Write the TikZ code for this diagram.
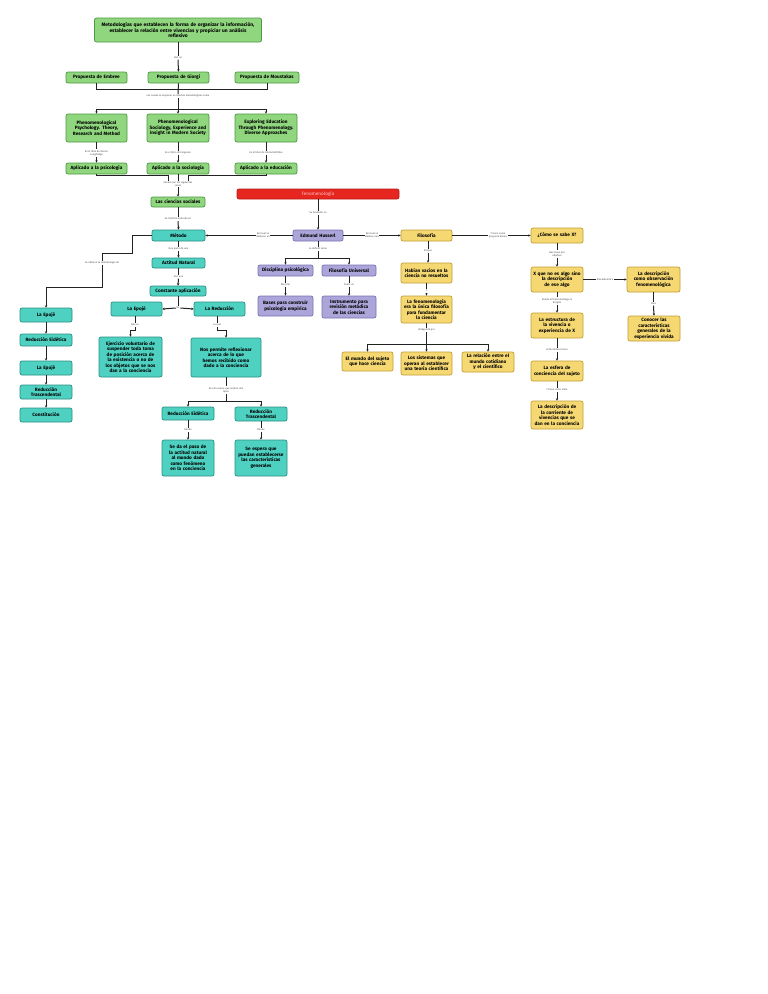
\documentclass[tikz,border=0pt]{standalone}
\usepackage{fontspec}
\setmainfont{Fira Sans}
\usetikzlibrary{arrows.meta}
\definecolor{gfill}{HTML}{8FD67E}
\definecolor{gdraw}{HTML}{4E9A42}
\definecolor{tfill}{HTML}{4FD1C1}
\definecolor{tdraw}{HTML}{2A8F85}
\definecolor{pfill}{HTML}{ABA5D9}
\definecolor{pdraw}{HTML}{7A72B4}
\definecolor{yfill}{HTML}{F6D872}
\definecolor{ydraw}{HTML}{C29F36}
\definecolor{rfill}{HTML}{E6261F}
\definecolor{lnc}{HTML}{222222}
\newcommand\bxfont{\fontsize{4.7}{5.5}\selectfont\bfseries\hyphenpenalty=10000\exhyphenpenalty=10000}
\newcommand\lbfont{\fontsize{2.5}{3.0}\selectfont}
\tikzset{
  bx/.style={rounded corners=2pt, line width=0.7pt, align=center, font=\bxfont, inner sep=0.8pt, text=black},
  gb/.style={bx, fill=gfill, draw=gdraw},
  tb/.style={bx, fill=tfill, draw=tdraw},
  pb/.style={bx, fill=pfill, draw=pdraw},
  yb/.style={bx, fill=yfill, draw=ydraw},
  rb/.style={bx, fill=rfill, draw=rfill!80!black, text=red!25!white, font=\bxfont\mdseries},
  sz/.style 2 args={minimum width=#1, text width=#1-3, minimum height=#2},
  lab/.style={font=\lbfont, text=black!70, fill=white, inner sep=0.6pt, align=center},
  ln/.style={draw=lnc, line width=1pt},
  arr/.style={ln, -{Stealth[length=2.4pt,width=2.4pt]}}
}
\begin{document}
\begin{tikzpicture}[x=1pt,y=-1pt]
\fill[white] (0,0) rectangle (768,994);
\useasboundingbox (0,0) rectangle (768,994);

% green
\node[gb, sz={167}{24}, font=\fontsize{4.9}{5.8}\selectfont\bfseries] (top) at (178,30) {Metodologías que establecen la forma de organizar la información,\\ establecer la relación entre vivencias y propiciar un análisis\\ reflexivo};
\node[gb, sz={61}{11}] (emb) at (96.5,77.5) {Propuesta de Embree};
\node[gb, sz={61}{11}] (gio) at (178.5,77.5) {Propuesta de Giorgi};
\node[gb, sz={64}{11}] (mou) at (267,77.5) {Propuesta de Moustakas};
\node[gb, sz={61}{28}] (pp) at (96.5,128) {Phenomenological Psychology. Theory, Research and Method};
\node[gb, sz={62}{28}] (ps) at (178,128) {Phenomenological Sociology, Experience and Insight in Modern Society};
\node[gb, sz={62}{28}] (ee) at (266,128) {Exploring Education Through Phenomenology. Diverse Approaches};
\node[gb, sz={61}{11}] (ap1) at (96.5,168.5) {Aplicado a la psicología};
\node[gb, sz={62}{11}] (ap2) at (178,168.5) {Aplicado a la sociología};
\node[gb, sz={62}{11}] (ap3) at (266,168.5) {Aplicado a la educación};
\node[gb, sz={54}{10}] (cs) at (178,202) {Las ciencias sociales};

% teal
\node[tb, sz={53}{11}] (met) at (178.5,235.5) {Método};
\node[tb, sz={53}{10}] (an) at (178.5,263) {Actitud Natural};
\node[tb, sz={56}{10}] (ca) at (178,291) {Constante aplicación};
\node[tb, sz={51}{14}] (ep2) at (136.5,309) {La Epojé};
\node[tb, sz={51}{14}] (red) at (219.5,309) {La Reducción};
\node[tb, sz={63}{40}] (ej) at (130.5,357) {Ejercicio voluntario de suspender toda toma de posición acerca de la existencia o no de los objetos que se nos dan a la conciencia};
\node[tb, sz={70}{39}] (nos) at (226,357.5) {Nos permite reflexionar acerca de lo que hemos recibido como dado a la conciencia};
\node[tb, sz={52}{13}] (re2) at (188,413.5) {Reducción Eidética};
\node[tb, sz={52}{14}] (rt2) at (261,414) {Reducción Trascendental};
\node[tb, sz={52}{36}] (sd) at (188,458) {Se da el paso de la actitud natural al mundo dado como fenómeno en la conciencia};
\node[tb, sz={52}{36}] (se) at (261,458) {Se espera que puedan establecerse las características generales};
\node[tb, sz={52}{14}] (ep1) at (46,315) {La Epojé};
\node[tb, sz={52}{12}] (re1) at (46,340) {Reducción Eidética};
\node[tb, sz={52}{14}] (ep3) at (46,368) {La Epojé};
\node[tb, sz={52}{14}] (rt1) at (46,392) {Reducción Trascendental};
\node[tb, sz={52}{14}] (con) at (46,415) {Constitución};

% purple
\node[pb, sz={50}{11}] (hus) at (318,235.5) {Edmund Husserl};
\node[pb, sz={55}{11}] (dp) at (285.5,270.5) {Disciplina psicológica};
\node[pb, sz={54}{11}] (fu) at (349,270.5) {Filosofía Universal};
\node[pb, sz={55}{20}] (bp) at (285.5,306) {Bases para construir psicología empírica};
\node[pb, sz={54}{22}] (ins) at (349,307) {Instrumento para revisión metódica de las ciencias};

% yellow
\node[yb, sz={51}{11}] (fil) at (426.5,235.5) {Filosofía};
\node[yb, sz={51}{20}] (hv) at (426.5,273) {Habían vacíos en la ciencia no resueltos};
\node[yb, sz={51}{27}] (lf) at (426.5,309.5) {La fenomenología era la única filosofía para fundamentar la ciencia};
\node[yb, sz={51}{19}] (ms) at (367.5,361.5) {El mundo del sujeto que hace ciencia};
\node[yb, sz={51}{23}] (si) at (426.5,363.5) {Los sistemas que operan al establecer una teoría científica};
\node[yb, sz={52}{20}] (rel) at (488,362) {La relación entre el mundo cotidiano y el científico};
\node[yb, sz={52}{15}] (como) at (557,235.5) {¿Cómo se sabe X?};
\node[yb, sz={52}{25}] (xq) at (557,279.5) {X que no es algo sino la descripción de ese algo};
\node[yb, sz={53}{25}] (ld) at (653.5,279.5) {La descripción como observación fenomenológica};
\node[yb, sz={52}{25}] (cc) at (654,328.5) {Conocer las características generales de la experiencia vivida};
\node[yb, sz={52}{25}] (es) at (557,325.5) {La estructura de la vivencia o experiencia de X};
\node[yb, sz={52}{20}] (esf) at (557,371) {La esfera de conciencia del sujeto};
\node[yb, sz={52}{28}] (dc) at (557,415) {La descripción de la corriente de vivencias que se dan en la conciencia};

% red
\node[rb, minimum width=162, minimum height=10] (fen) at (318,194) {Fenomenología};

% labels
\node[lab] (l0) at (178,58) {Dan un};
\node[lab] (l1) at (178,96) {Los cuales se amparan en diseños metodológicos como};
\node[lab] (lb1) at (96.5,153) {En el libro de Darren\\Langdridge};
\node[lab] (lb2) at (178,153) {En el libro de Ferguson};
\node[lab] (lb3) at (266,153) {En el libro de Gloria Dall'Alba};
\node[lab] (lc) at (178,184) {Cuenta con los siguientes\\casos};
\node[lab] (lsc) at (178,219) {Se clasifica aplicado en};
\node[lab] (lfu) at (318,213) {Su fundador es};
\node[lab] (ld1) at (263,235.5) {Del cual se\\deducen un};
\node[lab] (ld2) at (372,235.5) {Del cual se\\deduce una};
\node[lab] (ld3) at (498,235.5) {Y tiene como\\pregunta básica};
\node[lab] (ldef) at (318,249) {La definió como};
\node[lab] (lpd) at (285.5,285) {Para dar};
\node[lab] (lco) at (349,285) {Como un};
\node[lab] (lpor) at (428,251) {Porque};
\node[lab] (ly) at (426.5,291) {Y};
\node[lab] (lind) at (426.5,330) {Indagando por};
\node[lab] (lqt) at (557,254) {Que tiene por\\objetivo};
\node[lab] (lent) at (605,279.5) {Entendiendo a};
\node[lab] (lpara) at (653.5,304) {Para};
\node[lab] (ldon) at (557,301) {Donde el fenomenólogo se\\dirigirá};
\node[lab] (lenf) at (557,350) {Enfocándose hacia};
\node[lab] (lyt) at (557,390) {Y tiene como meta};
\node[lab] (lso) at (102,263) {Se obtiene su metodología de};
\node[lab] (lqp) at (178.5,249) {Que parte de una};
\node[lab] (lcu) at (178.5,277) {Con una};
\node[lab] (lde) at (178,308) {De};
\node[lab] (lqe) at (135,325) {Que es};
\node[lab] (llc) at (217,325) {La cual};
\node[lab] (ldos) at (226,390) {De ella vemos que existen dos\\tipos};
\node[lab] (ldo1) at (188,430) {Donde};
\node[lab] (ldo2) at (261,430) {Donde};

% connectors top
\draw[ln] (top.south) -- (l0.north);
\draw[arr] (l0.south) -- (gio.north);
\coordinate (b1) at (178.5,89);
\draw[ln] (emb.south) |- (b1);
\draw[ln] (mou.south) |- (b1);
\draw[ln] (gio.south) -- (l1.north);
\coordinate (b2) at (178,109);
\draw[ln] (l1.south) -- (b2);
\draw[arr] (b2) -| (pp.north);
\draw[arr] (b2) -- (ps.north);
\draw[arr] (b2) -| (ee.north);
\draw[ln] (pp.south) -- (lb1.north);
\draw[arr] (lb1.south) -- (ap1.north);
\draw[ln] (ps.south) -- (lb2.north);
\draw[arr] (lb2.south) -- (ap2.north);
\draw[ln] (ee.south) -- (lb3.north);
\draw[arr] (lb3.south) -- (ap3.north);
\draw[ln] (ap1.south) |- ([xshift=-10pt,yshift=5pt]lc.north) -- ([xshift=-10pt]lc.north);
\draw[ln] (ap3.south) |- ([xshift=10pt,yshift=5pt]lc.north) -- ([xshift=10pt]lc.north);
\draw[ln] (ap2.south) -- (lc.north);
\draw[arr] (lc.south) -- (cs.north);
\draw[ln] (cs.south) -- (lsc.north);
\draw[arr] (lsc.south) -- (met.north);

% center
\draw[ln] (fen.south) -- (lfu.north);
\draw[arr] (lfu.south) -- (hus.north);
\draw[ln] (hus.west) -- (ld1.east);
\draw[arr] (ld1.west) -- (met.east);
\draw[ln] (hus.east) -- (ld2.west);
\draw[arr] (ld2.east) -- (fil.west);
\draw[ln] (fil.east) -- (ld3.west);
\draw[arr] (ld3.east) -- (como.west);
\draw[ln] (hus.south) -- (ldef.north);
\coordinate (hb) at (318,258);
\draw[ln] (ldef.south) -- (hb);
\draw[arr] (hb) -| (dp.north);
\draw[arr] (hb) -| (fu.north);
\draw[ln] (dp.south) -- (lpd.north);
\draw[arr] (lpd.south) -- (bp.north);
\draw[ln] (fu.south) -- (lco.north);
\draw[arr] (lco.south) -- (ins.north);

% yellow middle
\draw[ln] (fil.south -| lpor.north) -- (lpor.north);
\draw[arr] (lpor.south) -- (hv.north -| lpor.south);
\draw[ln] (hv.south) -- (ly.north);
\draw[arr] (ly.south) -- (lf.north);
\draw[ln] (lf.south) -- (lind.north);
\coordinate (ib) at (426.5,344);
\draw[ln] (lind.south) -- (ib);
\draw[arr] (ib) -| (ms.north);
\draw[arr] (ib) -- (si.north);
\draw[arr] (ib) -| (rel.north);

% yellow right
\draw[ln] (como.south) -- (lqt.north);
\draw[arr] (lqt.south) -- (xq.north);
\draw[ln] (xq.east) -- (lent.west);
\draw[arr] (lent.east) -- (ld.west);
\draw[ln] (ld.south) -- (lpara.north);
\draw[arr] (lpara.south) -- (cc.north);
\draw[ln] (xq.south) -- (ldon.north);
\draw[arr] (ldon.south) -- (es.north);
\draw[ln] (es.south) -- (lenf.north);
\draw[arr] (lenf.south) -- (esf.north);
\draw[ln] (esf.south) -- (lyt.north);
\draw[arr] (lyt.south) -- (dc.north);

% teal
\draw[ln] (met.west) -| (132,253) -| (lso.north);
\draw[arr] (lso.south) |- ([yshift=20pt]ep1.north) -- (ep1.north);
\draw[arr] (ep1.south) -- (re1.north);
\draw[arr] (re1.south) -- (ep3.north);
\draw[arr] (ep3.south) -- (rt1.north);
\draw[arr] (rt1.south) -- (con.north);
\draw[ln] (met.south) -- (lqp.north);
\draw[arr] (lqp.south) -- (an.north);
\draw[ln] (an.south) -- (lcu.north);
\draw[arr] (lcu.south) -- (ca.north);
\draw[ln] (ca.south) -- (lde.north);
\draw[arr] (lde.west) -- (ep2.east);
\draw[arr] (lde.east) -- (red.west);
\draw[ln] (ep2.south -| lqe.north) -- (lqe.north);
\draw[arr] (lqe.south) -- ++(0,4) -| (ej.north);
\draw[ln] (red.south -| llc.north) -- (llc.north);
\draw[arr] (llc.south) -- ++(0,4) -| (nos.north);
\draw[ln] (nos.south) -- (ldos.north);
\coordinate (tbr) at (226,401);
\draw[ln] (ldos.south) -- (tbr);
\draw[arr] (tbr) -| (re2.north);
\draw[arr] (tbr) -| (rt2.north);
\draw[ln] (re2.south) -- (ldo1.north);
\draw[arr] (ldo1.south) -- (sd.north);
\draw[ln] (rt2.south) -- (ldo2.north);
\draw[arr] (ldo2.south) -- (se.north);
\end{tikzpicture}
\end{document}
